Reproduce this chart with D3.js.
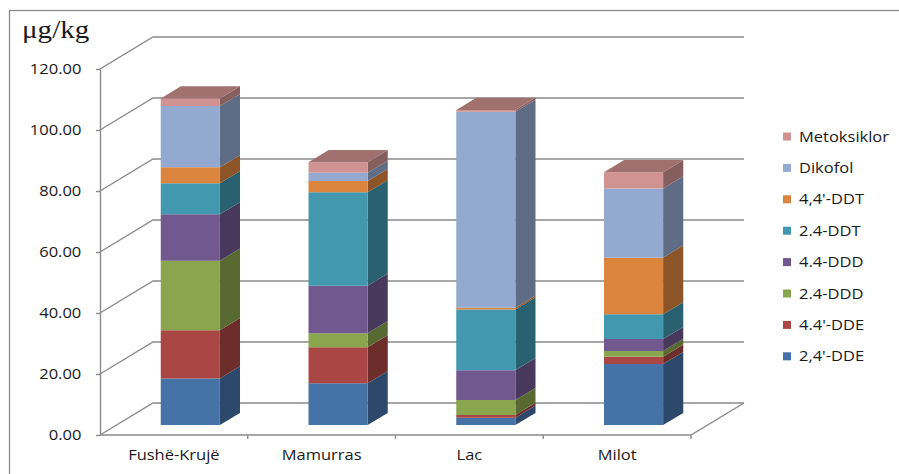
<!DOCTYPE html>
<html>
<head>
<meta charset="utf-8">
<script src="https://cdn.jsdelivr.net/npm/d3@7"></script>
<style>
  html, body { margin: 0; padding: 0; background: #fff; }
  svg { display: block; }
  text { font-family: "Open Sans", "Liberation Sans", sans-serif; fill: #1a1a1a; }
</style>
</head>
<body>
<svg id="chart" width="899" height="474"></svg>
<script>
// Sampling sites
const categories = ["Fushë-Krujë", "Mamurras", "Lac", "Milot"];

// Residue concentrations (µg/kg) per compound, one value per site
const dde24       = [15.3, 13.7, 2.4, 20.0];
const dde44       = [15.8, 11.8, 0.9, 2.4];
const ddd24       = [22.8, 4.6, 4.9, 1.9];
const ddd44       = [15.2, 15.6, 9.8, 3.9];
const ddt24       = [10.2, 30.6, 19.9, 8.1];
const ddt44       = [5.2, 3.7, 0.6, 18.6];
const dikofol     = [20.1, 2.7, 64.2, 22.7];
const metoksiklor = [2.5, 3.5, 0.6, 5.3];

// Stack order, bottom to top
const seriesNames = ["2,4'-DDE", "4.4'-DDE", "2.4-DDD", "4.4-DDD", "2.4-DDT", "4,4'-DDT", "Dikofol", "Metoksiklor"];
const seriesValues = [dde24, dde44, ddd24, ddd44, ddt24, ddt44, dikofol, metoksiklor];
const seriesColors = ["#4572A7", "#AA4643", "#89A54E", "#71588F", "#4198AF", "#DB843D", "#93A9CF", "#D19392"];

const yTicks = [0, 20, 40, 60, 80, 100, 120];
const unitLabel = "μg/kg";

const svg = d3.select("#chart");

// Oblique projection: z runs from the front (0) to the back wall (1)
const depth = { dx: 53, dy: -32 };
const x = d3.scaleBand().domain(categories).range([100, 691]).paddingInner(0).paddingOuter(0);
const y = d3.scaleLinear().domain([0, 120]).range([435, 69]);
const proj = (px, v, z) => [px + z * depth.dx, y(v) + z * depth.dy];

const gridColor = "#8a8a8a";
const stretch = 1.1;

// Chart frame
svg.append("rect")
  .attr("x", 9.5).attr("y", 10.5).attr("width", 900).attr("height", 480)
  .attr("fill", "none").attr("stroke", gridColor).attr("stroke-width", 1.3);

// Back wall gridlines and side wall diagonals
const grid = svg.append("g").attr("fill", "none").attr("stroke", gridColor).attr("stroke-width", 1.4);
yTicks.forEach(t => {
  const a = proj(x.range()[0], t, 0), b = proj(x.range()[0], t, 1), c = proj(x.range()[1], t, 1);
  grid.append("path").attr("d", d3.line()([a, b, c]));
});
// Floor outline
{
  const f0 = proj(x.range()[0], 0, 0), f1 = proj(x.range()[1], 0, 0), f2 = proj(x.range()[1], 0, 1);
  grid.append("path").attr("d", d3.line()([f0, f1, f2]));
}

// Value axis
const yAxis = svg.append("g")
  .attr("transform", `translate(${x.range()[0]},0)`)
  .call(d3.axisLeft(y).tickValues(yTicks).tickFormat(d3.format(".2f")).tickSize(4).tickPadding(13).tickSizeOuter(0));
yAxis.select(".domain").attr("stroke", gridColor).attr("stroke-width", 1.4);
yAxis.selectAll(".tick line").attr("stroke", gridColor).attr("stroke-width", 1.4);
yAxis.selectAll(".tick text")
  .attr("font-size", 15).attr("fill", "#1a1a1a")
  .attr("transform", `scale(${stretch},1)`);

// Category axis: labels under each band, ticks on band boundaries
const xAxis = svg.append("g")
  .attr("transform", `translate(0,${y(0)})`)
  .call(d3.axisBottom(x).tickSize(0).tickPadding(14));
xAxis.select(".domain").remove();
xAxis.selectAll(".tick text")
  .attr("font-size", 15).attr("fill", "#1a1a1a")
  .attr("text-anchor", "middle")
  .attr("transform", `scale(${stretch},1)`)
  .attr("x", 0);
const boundaries = d3.range(1, categories.length + 1).map(i => x.range()[0] + i * x.step());
svg.append("g").selectAll("line").data(boundaries).join("line")
  .attr("x1", d => d).attr("x2", d => d)
  .attr("y1", y(0)).attr("y2", y(0) + 4)
  .attr("stroke", gridColor).attr("stroke-width", 1.4);

// 3D stacked columns
const barFrac = 0.4;
const z0 = 0.31, z1 = 0.69;
const shade = (c, k) => {
  const r = d3.rgb(c);
  return d3.rgb(r.r * k, r.g * k, r.b * k).formatHex();
};

const bars = svg.append("g");
categories.forEach((cat, ci) => {
  const cx = x(cat) + x.bandwidth() / 2;
  const w = x.bandwidth() * barFrac;
  const xl = cx - w / 2, xr = cx + w / 2;
  let base = 0;
  seriesValues.forEach((vals, si) => {
    const v0 = base, v1 = base + vals[ci];
    base = v1;
    const col = seriesColors[si];
    const g = bars.append("g");
    // right side face
    g.append("path")
      .attr("d", d3.line()([proj(xr, v0, z0), proj(xr, v0, z1), proj(xr, v1, z1), proj(xr, v1, z0)]) + "Z")
      .attr("fill", shade(col, 0.64));
    // front face
    g.append("path")
      .attr("d", d3.line()([proj(xl, v0, z0), proj(xr, v0, z0), proj(xr, v1, z0), proj(xl, v1, z0)]) + "Z")
      .attr("fill", col);
    // top face of the uppermost segment
    if (si === seriesValues.length - 1) {
      g.append("path")
        .attr("d", d3.line()([proj(xl, v1, z0), proj(xr, v1, z0), proj(xr, v1, z1), proj(xl, v1, z1)]) + "Z")
        .attr("fill", shade(col, 0.77));
    }
  });
});

// Legend, top entry is the top of the stack
const legendItems = seriesNames.map((n, i) => ({ name: n, color: seriesColors[i] })).reverse();
const legend = svg.append("g");
const lg = legend.selectAll("g").data(legendItems).join("g")
  .attr("transform", (d, i) => `translate(783,${141.5 + i * 31.4})`);
lg.append("rect").attr("x", 0).attr("y", -9).attr("width", 8).attr("height", 8)
  .attr("fill", d => d.color);
lg.append("text")
  .attr("transform", `translate(16,0) scale(${stretch},1)`)
  .attr("font-size", 15)
  .text(d => d.name);

// Unit label
svg.append("text")
  .attr("transform", `translate(22,38) scale(1.12,1)`)
  .style("font-family", "'Liberation Serif', 'Times New Roman', serif")
  .attr("font-size", 26)
  .text(unitLabel);
</script>
</body>
</html>
